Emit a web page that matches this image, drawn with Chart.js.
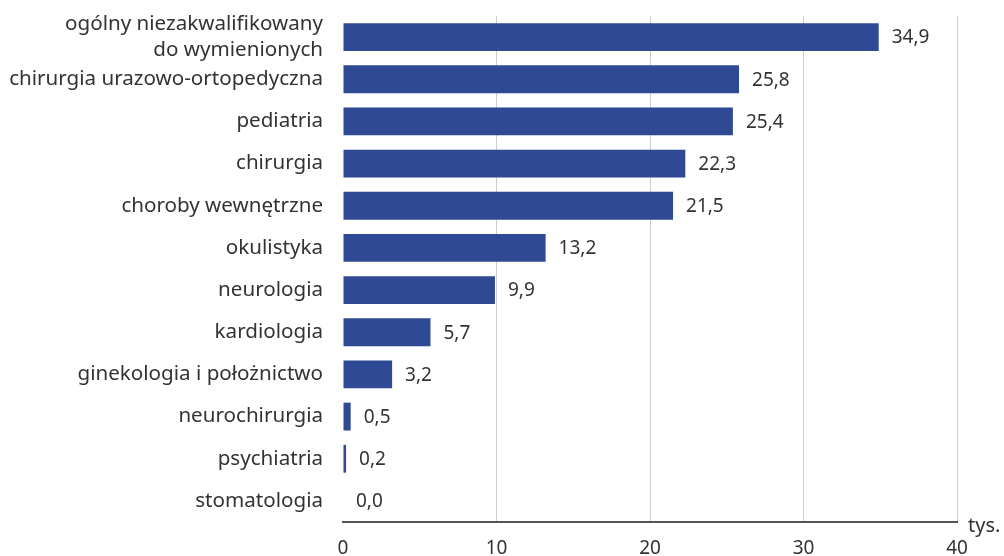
<!DOCTYPE html>
<html>
<head>
<meta charset="utf-8">
<script src="https://cdn.jsdelivr.net/npm/chart.js@4"></script>
<style>
	body { margin: 0; background: white; }
	#wrap { width: 1004px; height: 556px; }
</style>
</head>
<body>
<div id="wrap"><canvas id="chart-1"></canvas></div>
<script>
// categories and values (tys.)
const categories = [
	["ogólny niezakwalifikowany", "do wymienionych"],
	"chirurgia urazowo-ortopedyczna",
	"pediatria",
	"chirurgia",
	"choroby wewnętrzne",
	"okulistyka",
	"neurologia",
	"kardiologia",
	"ginekologia i położnictwo",
	"neurochirurgia",
	"psychiatria",
	"stomatologia"
];
const values = [34.9, 25.8, 25.4, 22.3, 21.5, 13.2, 9.9, 5.7, 3.2, 0.5, 0.2, 0.0];
const xTicks = [0, 10, 20, 30, 40];

const barColour = "#2f4994";
const textColour = "#333333";
const fontName = "'Noto Sans', 'Open Sans', sans-serif";

//draws value labels after each bar and the unit at the end of the axis
const labelPlugin = {
	id: 'valueLabels',
	afterDatasetsDraw: chart => {
		let ctx = chart.ctx;
		ctx.save();
		ctx.font = "19px " + fontName;
		ctx.fillStyle = textColour;
		ctx.textAlign = "left";
		ctx.textBaseline = "middle";
		let meta = chart.getDatasetMeta(0);
		meta.data.forEach((bar, i) => {
			let txt = values[i].toFixed(1).replace(".", ",");
			ctx.fillText(txt, bar.x + 13, bar.y + 1);
		});
		let xs = chart.scales.x;
		ctx.font = "20px " + fontName;
		ctx.fillText("tys.", xs.right + 11, xs.top + 4);
		ctx.restore();
	}
};

var data1 = {
	labels: categories,
	datasets: [{
		data: values,
		backgroundColor: barColour,
		barPercentage: 0.66,
		categoryPercentage: 1.0
	}]
};

var options1 = {
	indexAxis: 'y',
	maintainAspectRatio: false,
	responsive: true,
	animation: false,
	layout: {
		padding: { top: 16, right: 47, bottom: 0, left: 0 }
	},
	plugins: {
		legend: { display: false },
		tooltip: { enabled: false }
	},
	scales: {
		x: {
			min: 0,
			max: 40,
			afterBuildTicks: axis => {
				axis.ticks = xTicks.map(v => ({ value: v }));
			},
			afterFit: axis => {
				axis.height = 34;
				axis.paddingLeft = 0;
				axis.paddingRight = 0;
			},
			grid: {
				drawTicks: false,
				color: ctx => (ctx.tick && ctx.tick.value === 0) ? "rgba(0,0,0,0)" : "#cccccc",
				lineWidth: 1
			},
			border: { display: true, color: "#555555", width: 2 },
			ticks: {
				padding: 15,
				color: textColour,
				font: { size: 19, family: fontName }
			}
		},
		y: {
			afterFit: axis => {
				axis.width = 343;
				axis.paddingTop = 0;
				axis.paddingBottom = 0;
			},
			grid: { display: false, drawTicks: false },
			border: { display: false },
			ticks: {
				autoSkip: false,
				padding: 20,
				color: textColour,
				font: { size: 20.6, family: fontName, lineHeight: 1.22 }
			}
		}
	}
};

var graph = new Chart('chart-1', {
	type: 'bar',
	data: data1,
	options: options1,
	plugins: [labelPlugin]
});
</script>
</body>
</html>
